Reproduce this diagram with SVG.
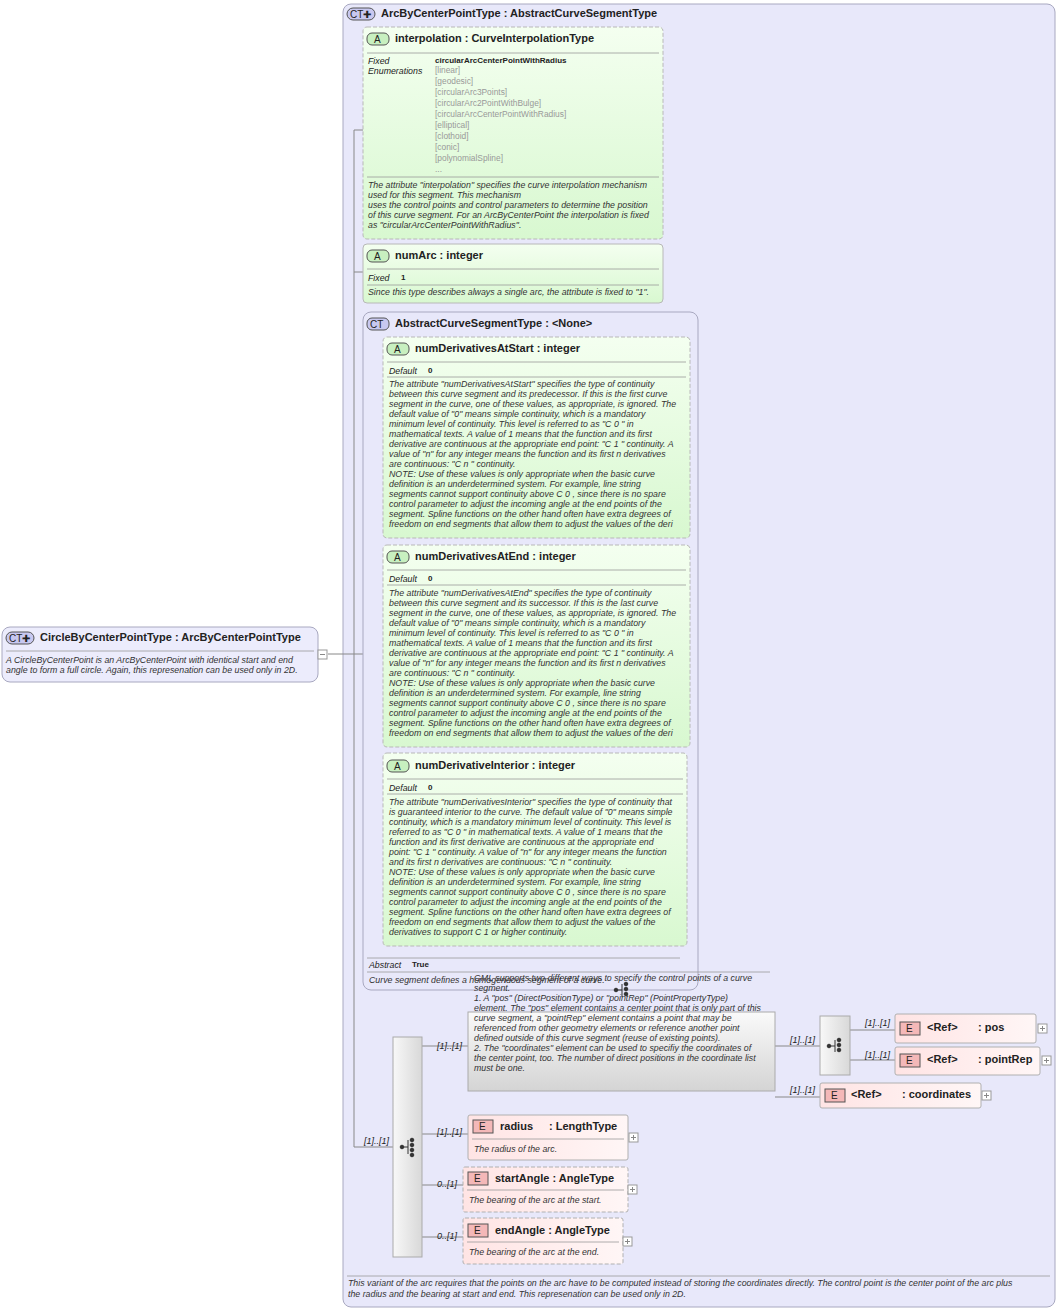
<svg xmlns="http://www.w3.org/2000/svg" width="1059" height="1310" viewBox="0 0 1059 1310">
<defs>
<linearGradient id="g" x1="0" y1="0" x2="0" y2="1"><stop offset="0" stop-color="#f4fff0"/><stop offset="1" stop-color="#d8f8d0"/></linearGradient>
<linearGradient id="ge" x1="0" y1="0" x2="1" y2="0"><stop offset="0" stop-color="#ffe4e4"/><stop offset="1" stop-color="#fff6f6"/></linearGradient>
<linearGradient id="gs" x1="0" y1="0" x2="1" y2="0"><stop offset="0" stop-color="#f8f8f8"/><stop offset="1" stop-color="#d8d8d8"/></linearGradient>
<linearGradient id="gc" x1="0" y1="0" x2="0" y2="1"><stop offset="0" stop-color="#fafafa"/><stop offset="1" stop-color="#d4d4d4"/></linearGradient>
</defs>
<style>
text{font-family:"Liberation Sans",Arial,sans-serif;fill:#222}
.t{font-size:11px;font-weight:bold}
.d{font-size:8.8px;font-style:italic;fill:#333}
.k{font-size:8.8px;font-style:italic}
.v{font-size:8px;font-weight:bold}
.en{font-size:8.4px;fill:#999}
.m{font-size:9px;font-style:italic}
.ct{fill:#e8e8fa;stroke:#a8a8c0}
.at{fill:url(#g);stroke:#b8b8b8}
.dash{stroke-dasharray:4,2}
.el{fill:url(#ge);stroke:#b0b0b0}
.sep{stroke:#999;stroke-width:.8}
.c{stroke:#888;fill:none}
.pl{fill:#fff;stroke:#999}
</style>
<rect x="0" y="0" width="1059" height="1310" fill="#fff"/>
<g id="arc">
<rect class="ct" x="343" y="4" width="712" height="1303" rx="8"/>
<rect x="347" y="8" width="28" height="12" rx="6" fill="#c8c8f0" stroke="#555"/><text x="350" y="18" font-size="10">CT✚</text>
<text class="t" x="381" y="17">ArcByCenterPointType : AbstractCurveSegmentType</text>
<line class="sep" x1="347" y1="1276" x2="1050" y2="1276"/>
<text class="d" x="348" y="1286">This variant of the arc requires that the points on the arc have to be computed instead of storing the coordinates directly. The control point is the center point of the arc plus</text>
<text class="d" x="348" y="1297">the radius and the bearing at start and end. This represenation can be used only in 2D.</text>
</g>
<g id="connectors" class="c">
<path d="M328 654H354M354 130V1147M354 130H363M354 272H363M354 654H363M354 1147H393"/>
<path d="M372 437V650M372 437H383M372 645H383M372 650H383"/>
<path d="M422 1046H468M422 1134H468M422 1185H463M422 1237H463"/>
<path d="M775 1046H820M850 1030H895M850 1060H895M775 1097H820"/>
</g>
<g id="circle">
<rect x="2" y="627" width="316" height="55" rx="8" fill="#ececfc" stroke="#a8a8c0"/>
<rect x="6" y="632" width="28" height="12" rx="6" fill="#c8c8f0" stroke="#555"/><text x="9" y="642" font-size="10">CT✚</text>
<text class="t" x="40" y="641">CircleByCenterPointType : ArcByCenterPointType</text>
<line class="sep" x1="6" y1="651" x2="314" y2="651"/>
<text class="d" x="6" y="663">A CircleByCenterPoint is an ArcByCenterPoint with identical start and end</text>
<text class="d" x="6" y="673">angle to form a full circle. Again, this represenation can be used only in 2D.</text>
<rect class="pl" x="318" y="650" width="9" height="9"/><path d="M320 654.5H325" stroke="#888"/>
</g>
<g id="interpolation">
<rect class="at dash" x="363" y="27" width="300" height="212" rx="4"/>
<rect x="367" y="33" width="22" height="12" rx="5" fill="#c8f0c0" stroke="#555"/><text x="374" y="43" font-size="10">A</text>
<text class="t" x="395" y="42">interpolation : CurveInterpolationType</text>
<line class="sep" x1="367" y1="53" x2="659" y2="53"/>
<text class="k" x="368" y="64">Fixed</text><text class="k" x="368" y="74">Enumerations</text>
<text class="v" x="435" y="63">circularArcCenterPointWithRadius</text>
<text class="en" x="435" y="73">[linear]</text><text class="en" x="435" y="84">[geodesic]</text><text class="en" x="435" y="95">[circularArc3Points]</text><text class="en" x="435" y="106">[circularArc2PointWithBulge]</text><text class="en" x="435" y="117">[circularArcCenterPointWithRadius]</text><text class="en" x="435" y="128">[elliptical]</text><text class="en" x="435" y="139">[clothoid]</text><text class="en" x="435" y="150">[conic]</text><text class="en" x="435" y="161">[polynomialSpline]</text><text class="en" x="435" y="172">...</text>
<line class="sep" x1="367" y1="177" x2="659" y2="177"/>
<text class="d" x="368" y="188">The attribute "interpolation" specifies the curve interpolation mechanism</text>
<text class="d" x="368" y="198">used for this segment. This mechanism</text>
<text class="d" x="368" y="208">uses the control points and control parameters to determine the position</text>
<text class="d" x="368" y="218">of this curve segment. For an ArcByCenterPoint the interpolation is fixed</text>
<text class="d" x="368" y="228">as "circularArcCenterPointWithRadius".</text>
</g>
<g id="numArc">
<rect class="at" x="363" y="244" width="300" height="59" rx="4"/>
<rect x="367" y="250" width="22" height="12" rx="5" fill="#c8f0c0" stroke="#555"/><text x="374" y="260" font-size="10">A</text>
<text class="t" x="395" y="259">numArc  : integer</text>
<line class="sep" x1="367" y1="269" x2="659" y2="269"/>
<text class="k" x="368" y="281">Fixed</text><text class="v" x="401" y="280">1</text>
<line class="sep" x1="367" y1="285" x2="659" y2="285"/>
<text class="d" x="368" y="295">Since this type describes always a single arc, the attribute is fixed to "1".</text>
</g>
<g id="abstract">
<rect class="ct" x="363" y="312" width="335" height="678" rx="8" fill="#ececfc"/>
<rect x="367" y="318" width="22" height="12" rx="5" fill="#c8c8f0" stroke="#555"/><text x="370" y="328" font-size="10">CT</text>
<text class="t" x="395" y="327">AbstractCurveSegmentType : &lt;None&gt;</text>
<line class="sep" x1="367" y1="958" x2="680" y2="958"/>
<text class="k" x="369" y="968">Abstract</text><text class="v" x="412" y="967">True</text>
<line class="sep" x1="367" y1="972" x2="770" y2="972"/>
<text class="d" x="369" y="983">Curve segment defines a homogeneous segment of a curve.</text>
</g>
<g id="atStart">
<rect class="at dash" x="383" y="337" width="307" height="201" rx="4"/>
<rect x="387" y="343" width="22" height="12" rx="5" fill="#c8f0c0" stroke="#555"/><text x="394" y="353" font-size="10">A</text>
<text class="t" x="415" y="352">numDerivativesAtStart : integer</text>
<line class="sep" x1="387" y1="362" x2="686" y2="362"/>
<text class="k" x="389" y="374">Default</text><text class="v" x="428" y="373">0</text>
<line class="sep" x1="387" y1="377" x2="686" y2="377"/>
<text class="d" x="389" y="387">The attribute "numDerivativesAtStart" specifies the type of continuity</text>
<text class="d" x="389" y="397">between this curve segment and its predecessor. If this is the first curve</text>
<text class="d" x="389" y="407">segment in the curve, one of these values, as appropriate, is ignored. The</text>
<text class="d" x="389" y="417">default value of "0" means simple continuity, which is a mandatory</text>
<text class="d" x="389" y="427">minimum level of continuity. This level is referred to as "C 0 " in</text>
<text class="d" x="389" y="437">mathematical texts. A value of 1 means that the function and its first</text>
<text class="d" x="389" y="447">derivative are continuous at the appropriate end point: "C 1 " continuity. A</text>
<text class="d" x="389" y="457">value of "n" for any integer means the function and its first n derivatives</text>
<text class="d" x="389" y="467">are continuous: "C n " continuity.</text>
<text class="d" x="389" y="477">NOTE: Use of these values is only appropriate when the basic curve</text>
<text class="d" x="389" y="487">definition is an underdetermined system. For example, line string</text>
<text class="d" x="389" y="497">segments cannot support continuity above C 0 , since there is no spare</text>
<text class="d" x="389" y="507">control parameter to adjust the incoming angle at the end points of the</text>
<text class="d" x="389" y="517">segment. Spline functions on the other hand often have extra degrees of</text>
<text class="d" x="389" y="527">freedom on end segments that allow them to adjust the values of the deri</text>
</g>
<g id="atEnd">
<rect class="at dash" x="383" y="545" width="307" height="202" rx="4"/>
<rect x="387" y="551" width="22" height="12" rx="5" fill="#c8f0c0" stroke="#555"/><text x="394" y="561" font-size="10">A</text>
<text class="t" x="415" y="560">numDerivativesAtEnd : integer</text>
<line class="sep" x1="387" y1="570" x2="686" y2="570"/>
<text class="k" x="389" y="582">Default</text><text class="v" x="428" y="581">0</text>
<line class="sep" x1="387" y1="585" x2="686" y2="585"/>
<text class="d" x="389" y="596">The attribute "numDerivativesAtEnd" specifies the type of continuity</text>
<text class="d" x="389" y="606">between this curve segment and its successor. If this is the last curve</text>
<text class="d" x="389" y="616">segment in the curve, one of these values, as appropriate, is ignored. The</text>
<text class="d" x="389" y="626">default value of "0" means simple continuity, which is a mandatory</text>
<text class="d" x="389" y="636">minimum level of continuity. This level is referred to as "C 0 " in</text>
<text class="d" x="389" y="646">mathematical texts. A value of 1 means that the function and its first</text>
<text class="d" x="389" y="656">derivative are continuous at the appropriate end point: "C 1 " continuity. A</text>
<text class="d" x="389" y="666">value of "n" for any integer means the function and its first n derivatives</text>
<text class="d" x="389" y="676">are continuous: "C n " continuity.</text>
<text class="d" x="389" y="686">NOTE: Use of these values is only appropriate when the basic curve</text>
<text class="d" x="389" y="696">definition is an underdetermined system. For example, line string</text>
<text class="d" x="389" y="706">segments cannot support continuity above C 0 , since there is no spare</text>
<text class="d" x="389" y="716">control parameter to adjust the incoming angle at the end points of the</text>
<text class="d" x="389" y="726">segment. Spline functions on the other hand often have extra degrees of</text>
<text class="d" x="389" y="736">freedom on end segments that allow them to adjust the values of the deri</text>
</g>
<g id="interior">
<rect class="at dash" x="383" y="753" width="304" height="193" rx="4"/>
<rect x="387" y="760" width="22" height="12" rx="5" fill="#c8f0c0" stroke="#555"/><text x="394" y="770" font-size="10">A</text>
<text class="t" x="415" y="769">numDerivativeInterior : integer</text>
<line class="sep" x1="387" y1="779" x2="683" y2="779"/>
<text class="k" x="389" y="791">Default</text><text class="v" x="428" y="790">0</text>
<line class="sep" x1="387" y1="794" x2="683" y2="794"/>
<text class="d" x="389" y="805">The attribute "numDerivativesInterior" specifies the type of continuity that</text>
<text class="d" x="389" y="815">is guaranteed interior to the curve. The default value of "0" means simple</text>
<text class="d" x="389" y="825">continuity, which is a mandatory minimum level of continuity. This level is</text>
<text class="d" x="389" y="835">referred to as "C 0 " in mathematical texts. A value of 1 means that the</text>
<text class="d" x="389" y="845">function and its first derivative are continuous at the appropriate end</text>
<text class="d" x="389" y="855">point: "C 1 " continuity. A value of "n" for any integer means the function</text>
<text class="d" x="389" y="865">and its first n derivatives are continuous: "C n " continuity.</text>
<text class="d" x="389" y="875">NOTE: Use of these values is only appropriate when the basic curve</text>
<text class="d" x="389" y="885">definition is an underdetermined system. For example, line string</text>
<text class="d" x="389" y="895">segments cannot support continuity above C 0 , since there is no spare</text>
<text class="d" x="389" y="905">control parameter to adjust the incoming angle at the end points of the</text>
<text class="d" x="389" y="915">segment. Spline functions on the other hand often have extra degrees of</text>
<text class="d" x="389" y="925">freedom on end segments that allow them to adjust the values of the</text>
<text class="d" x="389" y="935">derivatives to support C 1 or higher continuity.</text>
</g>
<g id="sequence">
<rect x="393" y="1037" width="29" height="220" fill="url(#gs)" stroke="#aaa"/>
<g fill="#333" stroke="#333"><circle cx="402" cy="1147" r="1.8"/><path d="M402 1147H408M408 1140V1154"/><circle cx="412" cy="1140" r="1.8"/><circle cx="412" cy="1145" r="1.8"/><circle cx="412" cy="1150" r="1.8"/><circle cx="412" cy="1155" r="1.8"/></g>
<text class="m" x="364" y="1144">[1]..[1]</text>
<text class="m" x="437" y="1049">[1]..[1]</text>
<text class="m" x="437" y="1135">[1]..[1]</text>
<text class="m" x="437" y="1187">0..[1]</text>
<text class="m" x="437" y="1239">0..[1]</text>
</g>
<g id="choice1">
<rect x="468" y="1012" width="307" height="79" fill="url(#gc)" stroke="#aaa"/>
<g fill="#333" stroke="#333"><circle cx="616" cy="990" r="1.8"/><path d="M616 990H622M622 984V997"/><circle cx="626" cy="984" r="1.8"/><circle cx="626" cy="989" r="1.8"/><circle cx="626" cy="994" r="1.8"/></g>
<text class="d" x="474" y="981">GML supports two different ways to specify the control points of a curve</text>
<text class="d" x="474" y="991">segment.</text>
<text class="d" x="474" y="1001">1. A "pos" (DirectPositionType) or "pointRep" (PointPropertyType)</text>
<text class="d" x="474" y="1011">element. The "pos" element contains a center point that is only part of this</text>
<text class="d" x="474" y="1021">curve segment, a "pointRep" element contains a point that may be</text>
<text class="d" x="474" y="1031">referenced from other geometry elements or reference another point</text>
<text class="d" x="474" y="1041">defined outside of this curve segment (reuse of existing points).</text>
<text class="d" x="474" y="1051">2. The "coordinates" element can be used to specifiy the coordinates of</text>
<text class="d" x="474" y="1061">the center point, too. The number of direct positions in the coordinate list</text>
<text class="d" x="474" y="1071">must be one.</text>
<text class="m" x="790" y="1043">[1]..[1]</text>
<text class="m" x="790" y="1093">[1]..[1]</text>
</g>
<g id="choice2">
<rect x="820" y="1016" width="30" height="59" fill="url(#gs)" stroke="#aaa"/>
<g fill="#333" stroke="#333"><circle cx="829" cy="1046" r="1.8"/><path d="M829 1046H835M835 1040V1052"/><circle cx="839" cy="1040" r="1.8"/><circle cx="839" cy="1045" r="1.8"/><circle cx="839" cy="1050" r="1.8"/></g>
<text class="m" x="865" y="1026">[1]..[1]</text>
<text class="m" x="865" y="1058">[1]..[1]</text>
</g>
<g id="pos">
<rect class="el" x="895" y="1014" width="141" height="29" rx="2"/>
<rect x="900" y="1022" width="20" height="13" fill="#f4b8b8" stroke="#555"/><text x="906" y="1032" font-size="10">E</text>
<text class="t" x="927" y="1031">&lt;Ref&gt;</text><text class="t" x="978" y="1031">: pos</text>
<rect class="pl" x="1038" y="1024" width="9" height="9"/><path d="M1040 1028.5H1045M1042.5 1026V1031" stroke="#888"/>
</g>
<g id="pointRep">
<rect class="el" x="895" y="1047" width="145" height="28" rx="2"/>
<rect x="900" y="1054" width="20" height="13" fill="#f4b8b8" stroke="#555"/><text x="906" y="1064" font-size="10">E</text>
<text class="t" x="927" y="1063">&lt;Ref&gt;</text><text class="t" x="978" y="1063">: pointRep</text>
<rect class="pl" x="1042" y="1056" width="9" height="9"/><path d="M1044 1060.5H1049M1046.5 1058V1063" stroke="#888"/>
</g>
<g id="coordinates">
<rect class="el" x="820" y="1083" width="161" height="25" rx="2"/>
<rect x="825" y="1089" width="20" height="13" fill="#f4b8b8" stroke="#555"/><text x="831" y="1099" font-size="10">E</text>
<text class="t" x="851" y="1098">&lt;Ref&gt;</text><text class="t" x="902" y="1098">: coordinates</text>
<rect class="pl" x="982" y="1091" width="9" height="9"/><path d="M984 1095.5H989M986.5 1093V1098" stroke="#888"/>
</g>
<g id="radius">
<rect class="el" x="468" y="1115" width="160" height="45" rx="2"/>
<rect x="473" y="1120" width="20" height="13" fill="#f4b8b8" stroke="#555"/><text x="479" y="1130" font-size="10">E</text>
<text class="t" x="500" y="1130">radius</text><text class="t" x="549" y="1130">: LengthType</text>
<line class="sep" x1="472" y1="1139" x2="624" y2="1139"/>
<text class="d" x="474" y="1152">The radius of the arc.</text>
<rect class="pl" x="629" y="1133" width="9" height="9"/><path d="M631 1137.5H636M633.5 1135V1140" stroke="#888"/>
</g>
<g id="startAngle">
<rect class="el dash" x="463" y="1167" width="165" height="45" rx="2"/>
<rect x="468" y="1172" width="20" height="13" fill="#f4b8b8" stroke="#555"/><text x="474" y="1182" font-size="10">E</text>
<text class="t" x="495" y="1182">startAngle : AngleType</text>
<line class="sep" x1="467" y1="1190" x2="624" y2="1190"/>
<text class="d" x="469" y="1203">The bearing of the arc at the start.</text>
<rect class="pl" x="628" y="1185" width="9" height="9"/><path d="M630 1189.5H635M632.5 1187V1192" stroke="#888"/>
</g>
<g id="endAngle">
<rect class="el dash" x="463" y="1218" width="160" height="46" rx="2"/>
<rect x="468" y="1224" width="20" height="13" fill="#f4b8b8" stroke="#555"/><text x="474" y="1234" font-size="10">E</text>
<text class="t" x="495" y="1234">endAngle : AngleType</text>
<line class="sep" x1="467" y1="1242" x2="619" y2="1242"/>
<text class="d" x="469" y="1255">The bearing of the arc at the end.</text>
<rect class="pl" x="623" y="1237" width="9" height="9"/><path d="M625 1241.5H630M627.5 1239V1244" stroke="#888"/>
</g>
</svg>
